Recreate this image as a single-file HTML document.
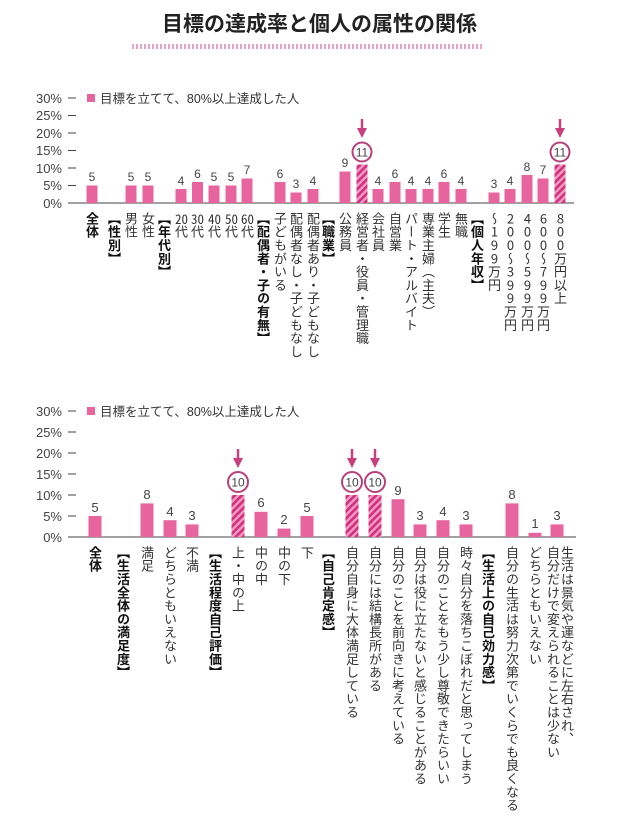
<!DOCTYPE html>
<html><head><meta charset="utf-8">
<style>
body{margin:0;width:639px;height:830px;background:#fff;position:relative;overflow:hidden;font-family:"Liberation Sans","Noto Sans CJK JP",sans-serif;color:#333}
.t{position:absolute;left:0;width:639px;top:8px;text-align:center;font-size:21px;font-weight:bold;color:#222;font-family:"Noto Sans CJK JP",sans-serif}
.dots{position:absolute;left:132px;top:44px;width:351px;height:5px;background:repeating-linear-gradient(90deg,#e7a3c8 0 2px,transparent 2px 4px)}
svg{position:absolute;left:0;top:0}
.l{position:absolute;writing-mode:vertical-rl;font-size:13px;line-height:14px;width:14px;letter-spacing:0.3px;color:#333;font-family:"Noto Sans CJK JP",sans-serif;white-space:nowrap}
.b{font-weight:bold;color:#111}
.u{text-orientation:upright}
.c{text-combine-upright:all}
.l2{width:28px}
</style></head><body>
<div class="t">目標の達成率と個人の属性の関係</div>
<div class="dots"></div>
<svg width="639" height="830" font-family="Liberation Sans, Noto Sans CJK JP, sans-serif">
<defs>
<pattern id="h" width="5" height="5" patternUnits="userSpaceOnUse" patternTransform="rotate(45)">
<rect width="5" height="5" fill="#f29cc4"/><rect width="2.6" height="5" fill="#d2307d"/>
</pattern>
<marker id="ar" markerWidth="4" markerHeight="4" refX="2" refY="2" orient="auto"><path d="M0,0 L4,2 L0,4z" fill="#c8407f"/></marker>
</defs>
<g font-size="13" fill="#444" text-anchor="end">
<text x="62" y="103">30%</text><text x="62" y="120">25%</text><text x="62" y="138">20%</text><text x="62" y="155">15%</text><text x="62" y="173">10%</text><text x="62" y="190">5%</text><text x="62" y="208">0%</text>
<text x="62" y="416">30%</text><text x="62" y="437">25%</text><text x="62" y="458">20%</text><text x="62" y="479">15%</text><text x="62" y="500">10%</text><text x="62" y="521">5%</text><text x="62" y="542">0%</text>
</g>
<g stroke="#444" stroke-width="1">
<path d="M68 98H76M68 115.5H76M68 133H76M68 150.5H76M68 168H76M68 185.5H76M68 203H574"/>
<path d="M68 411H76M68 432H76M68 453H76M68 474H76M68 495H76M68 516H76M68 537H576"/>
</g>
<rect x="87" y="94" width="8" height="8" fill="#e8649f"/>
<text x="100" y="103" font-size="12.5" fill="#333">目標を立てて、80%以上達成した人</text>
<rect x="87" y="407" width="8" height="8" fill="#e8649f"/>
<text x="100" y="416" font-size="12.5" fill="#333">目標を立てて、80%以上達成した人</text>

<g fill="#e8649f">
<rect x="86.5" y="185.5" width="11" height="17.5"/>
<rect x="125.5" y="185.5" width="11" height="17.5"/><rect x="142.5" y="185.5" width="11" height="17.5"/>
<rect x="175.5" y="189" width="11" height="14"/><rect x="192" y="182" width="11" height="21"/><rect x="208.5" y="185.5" width="11" height="17.5"/><rect x="225.5" y="185.5" width="11" height="17.5"/><rect x="241.5" y="178.5" width="11" height="24.5"/>
<rect x="274.5" y="182" width="11" height="21"/><rect x="290.5" y="192.5" width="11" height="10.5"/><rect x="307.5" y="189" width="11" height="14"/>
<rect x="339.5" y="171.5" width="11" height="31.5"/><rect x="372.5" y="189" width="11" height="14"/><rect x="389.5" y="182" width="11" height="21"/><rect x="405.5" y="189" width="11" height="14"/><rect x="422.5" y="189" width="11" height="14"/><rect x="438.5" y="182" width="11" height="21"/><rect x="455.5" y="189" width="11" height="14"/>
<rect x="488.5" y="192.5" width="11" height="10.5"/><rect x="504.5" y="189" width="11" height="14"/><rect x="521.5" y="175" width="11" height="28"/><rect x="537.5" y="178.5" width="11" height="24.5"/>
</g>
<rect x="356.5" y="164.5" width="11" height="38.5" fill="url(#h)"/>
<rect x="554.5" y="164.5" width="11" height="38.5" fill="url(#h)"/>
<g font-size="12" fill="#444" text-anchor="middle">
<text x="92" y="181">5</text><text x="131" y="181">5</text><text x="148" y="181">5</text>
<text x="181" y="185">4</text><text x="197.5" y="178">6</text><text x="214" y="181">5</text><text x="231" y="181">5</text><text x="247" y="174">7</text>
<text x="280" y="178">6</text><text x="296" y="188">3</text><text x="313" y="185">4</text>
<text x="345" y="167">9</text><text x="378" y="185">4</text><text x="395" y="178">6</text><text x="411" y="185">4</text><text x="428" y="185">4</text><text x="444" y="178">6</text><text x="461" y="185">4</text>
<text x="494" y="188">3</text><text x="510" y="185">4</text><text x="527" y="171">8</text><text x="543" y="174">7</text>
</g>

<g fill="#e8649f">
<rect x="88.5" y="516" width="13" height="21"/>
<rect x="140.5" y="503.4" width="13" height="33.6"/><rect x="163.5" y="520.2" width="13" height="16.8"/><rect x="185.5" y="524.4" width="13" height="12.6"/>
<rect x="254.5" y="511.8" width="13" height="25.2"/><rect x="277.5" y="528.6" width="13" height="8.4"/><rect x="300.5" y="516" width="13" height="21"/>
<rect x="391.5" y="499.2" width="13" height="37.8"/><rect x="413.5" y="524.4" width="13" height="12.6"/><rect x="436.5" y="520.2" width="13" height="16.8"/><rect x="459.5" y="524.4" width="13" height="12.6"/>
<rect x="505.5" y="503.4" width="13" height="33.6"/><rect x="528.5" y="532.8" width="13" height="4.2"/><rect x="550.5" y="524.4" width="13" height="12.6"/>
</g>
<rect x="231.5" y="495" width="13" height="42" fill="url(#h)"/>
<rect x="345.5" y="495" width="13" height="42" fill="url(#h)"/>
<rect x="368.5" y="495" width="13" height="42" fill="url(#h)"/>
<g font-size="13" fill="#444" text-anchor="middle">
<text x="95" y="512">5</text><text x="147" y="499">8</text><text x="170" y="516">4</text><text x="192" y="520">3</text>
<text x="261" y="507">6</text><text x="284" y="524">2</text><text x="307" y="512">5</text>
<text x="398" y="495">9</text><text x="420" y="520">3</text><text x="443" y="516">4</text><text x="466" y="520">3</text>
<text x="512" y="499">8</text><text x="535" y="528">1</text><text x="557" y="520">3</text>
</g>

<g fill="#fff" stroke="#b8407a" stroke-width="2">
<circle cx="362" cy="152" r="9.5"/><circle cx="560" cy="152" r="9.5"/>
<circle cx="238" cy="482" r="10"/><circle cx="352" cy="482" r="10"/><circle cx="375" cy="482" r="10"/>
</g>
<g font-size="12" fill="#444" text-anchor="middle">
<text x="362" y="156.5">11</text><text x="560" y="156.5">11</text>
<text x="238" y="486.5">10</text><text x="352" y="486.5">10</text><text x="375" y="486.5">10</text>
</g>
<g stroke="#c8407f" stroke-width="2.5" marker-end="url(#ar)">
<path d="M362 119V133"/><path d="M560 119V133"/>
<path d="M238 449V463"/><path d="M352 449V463"/><path d="M375 449V463"/>
</g>
</svg>

<div class="l b" style="left:85px;top:212px">全体</div>
<div class="l b" style="left:107px;top:212px">【性別】</div>
<div class="l" style="left:124px;top:212px">男性</div>
<div class="l" style="left:141px;top:212px">女性</div>
<div class="l b" style="left:157px;top:212px">【年代別】</div>
<div class="l" style="left:174px;top:212px"><span class="c">20</span>代</div>
<div class="l" style="left:190px;top:212px"><span class="c">30</span>代</div>
<div class="l" style="left:207px;top:212px"><span class="c">40</span>代</div>
<div class="l" style="left:224px;top:212px"><span class="c">50</span>代</div>
<div class="l" style="left:240px;top:212px"><span class="c">60</span>代</div>
<div class="l b" style="left:256px;top:212px">【配偶者・子の有無】</div>
<div class="l" style="left:273px;top:212px">子どもがいる</div>
<div class="l" style="left:289px;top:212px">配偶者なし・子どもなし</div>
<div class="l" style="left:306px;top:212px">配偶者あり・子どもなし</div>
<div class="l b" style="left:321px;top:212px">【職業】</div>
<div class="l" style="left:338px;top:212px">公務員</div>
<div class="l" style="left:355px;top:212px">経営者・役員・管理職</div>
<div class="l" style="left:371px;top:212px">会社員</div>
<div class="l" style="left:388px;top:212px">自営業</div>
<div class="l" style="left:404px;top:212px">パート・アルバイト</div>
<div class="l" style="left:421px;top:212px">専業主婦（主夫）</div>
<div class="l" style="left:437px;top:212px">学生</div>
<div class="l" style="left:454px;top:212px">無職</div>
<div class="l b" style="left:470px;top:212px">【個人年収】</div>
<div class="l u" style="left:487px;top:212px">〜199万円</div>
<div class="l u" style="left:503px;top:212px">200〜399万円</div>
<div class="l u" style="left:520px;top:212px">400〜599万円</div>
<div class="l u" style="left:536px;top:212px">600〜799万円</div>
<div class="l u" style="left:553px;top:212px">800万円以上</div>

<div class="l b" style="left:88px;top:546px">全体</div>
<div class="l b" style="left:116px;top:546px">【生活全体の満足度】</div>
<div class="l" style="left:140px;top:546px">満足</div>
<div class="l" style="left:163px;top:546px">どちらともいえない</div>
<div class="l" style="left:185px;top:546px">不満</div>
<div class="l b" style="left:208px;top:546px">【生活程度自己評価】</div>
<div class="l" style="left:231px;top:546px">上・中の上</div>
<div class="l" style="left:254px;top:546px">中の中</div>
<div class="l" style="left:277px;top:546px">中の下</div>
<div class="l" style="left:300px;top:546px">下</div>
<div class="l b" style="left:321px;top:546px">【自己肯定感】</div>
<div class="l" style="left:345px;top:546px">自分自身に大体満足している</div>
<div class="l" style="left:368px;top:546px">自分には結構長所がある</div>
<div class="l" style="left:391px;top:546px">自分のことを前向きに考えている</div>
<div class="l" style="left:413px;top:546px">自分は役に立たないと感じることがある</div>
<div class="l" style="left:436px;top:546px">自分のことをもう少し尊敬できたらいい</div>
<div class="l" style="left:459px;top:546px">時々自分を落ちこぼれだと思ってしまう</div>
<div class="l b" style="left:481px;top:546px">【生活上の自己効力感】</div>
<div class="l" style="left:505px;top:546px">自分の生活は努力次第でいくらでも良くなる</div>
<div class="l" style="left:528px;top:546px">どちらともいえない</div>
<div class="l l2" style="left:546px;top:546px">生活は景気や運などに左右され、<br>自分だけで変えられることは少ない</div>
</body></html>
